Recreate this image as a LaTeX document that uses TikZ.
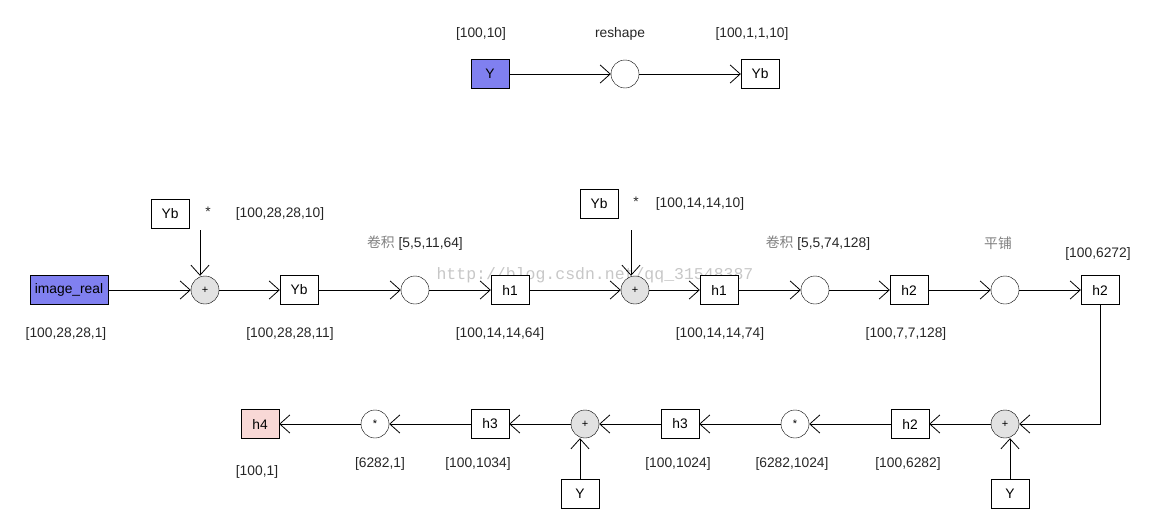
\documentclass[tikz,border=0pt]{standalone}
\usepackage{fontspec}
\setmainfont{Liberation Sans}
\newfontfamily\cjkfont{Noto Sans CJK SC}
\newfontfamily\markfont{Liberation Mono}
\usetikzlibrary{arrows.meta,positioning}
\definecolor{inblue}{RGB}{128,128,240}
\definecolor{outpink}{RGB}{248,216,214}
\definecolor{plusgray}{RGB}{226,226,226}
\tikzset{
  tensorbox/.style={
    rectangle,
    draw,
    fill=white,
    minimum width=38pt,
    minimum height=29pt,
    inner sep=0pt,
    font=\fontsize{13.8}{16}\selectfont
  },
  opnode/.style={
    circle,
    draw,
    fill=white,
    minimum size=28pt,
    inner sep=0pt,
    font=\fontsize{11}{12}\selectfont
  },
  addnode/.style={opnode, fill=plusgray},
  dimlabel/.style={
    inner sep=0pt,
    text=black!85,
    font=\fontsize{13.8}{16}\selectfont
  },
  cjk/.style={text=black!50},
  flowline/.style={-{Straight Barb[length=10pt,width=18pt]},line width=0.8pt}
}

\begin{document}
\begin{tikzpicture}[x=1pt,y=-1pt]
  \useasboundingbox (0,0) rectangle (1170,530);
  % watermark
  \node[text=black!22, font=\markfont\fontsize{16.5}{18}\selectfont] (mark) at (595,275) {http://blog.csdn.net/qq\_31548387};

  % reshape of the label
  \node[tensorbox, fill=inblue] (ytop) at (490,74) {Y};
  \node[opnode] (resh) at (625,74) {};
  \node[tensorbox] (ybtop) at (760,74) {Yb};
  \node[dimlabel] (dimy) at (481,34) {[100,10]};
  \node[dimlabel] (dimresh) at (620,34) {reshape};
  \node[dimlabel] (dimyb) at (752,34) {[100,1,1,10]};
  \draw[flowline] (ytop) -- (resh);
  \draw[flowline] (resh) -- (ybtop);

  % main row
  \node[tensorbox, fill=inblue, minimum width=78pt] (img) at (69,290) {image\_real};
  \node[addnode] (pl1) at (205,290) {+};
  \node[tensorbox] (yb1) at (299,290) {Yb};
  \node[opnode] (cv1) at (415,290) {};
  \node[tensorbox] (h1a) at (510,290) {h1};
  \node[addnode] (pl2) at (635,290) {+};
  \node[tensorbox] (h1b) at (719,290) {h1};
  \node[opnode] (cv2) at (815,290) {};
  \node[tensorbox] (h2a) at (909,290) {h2};
  \node[opnode] (tl) at (1005,290) {};
  \node[tensorbox] (h2b) at (1100,290) {h2};

  \node[tensorbox] (ybc1) at (170,214) {Yb};
  \node[dimlabel] (star1) at (208,212) {*};
  \node[dimlabel] (dimc1) at (280,214) {[100,28,28,10]};
  \coordinate (s1) at (200,230);
  \node[tensorbox] (ybc2) at (599,204) {Yb};
  \node[dimlabel] (star2) at (636,202) {*};
  \node[dimlabel] (dimc2) at (700,204) {[100,14,14,10]};
  \coordinate (s2) at (631,230);

  \node[dimlabel] (dimimg) at (66,334) {[100,28,28,1]};
  \node[dimlabel] (dimyb1) at (290,334) {[100,28,28,11]};
  \node[dimlabel] (dimh1a) at (500,334) {[100,14,14,64]};
  \node[dimlabel] (dimh1b) at (720,334) {[100,14,14,74]};
  \node[dimlabel] (dimh2a) at (906,334) {[100,7,7,128]};
  \node[dimlabel] (dimcv1) at (415,243) {{\cjkfont\color{black!50}卷积} [5,5,11,64]};
  \node[dimlabel] (dimcv2) at (818,243) {{\cjkfont\color{black!50}卷积} [5,5,74,128]};
  \node[dimlabel, cjk] (dimtl) at (998,243) {\cjkfont 平铺};
  \node[dimlabel] (dimh2b) at (1098,254) {[100,6272]};

  \draw[flowline] (img) -- (pl1);
  \draw[flowline] (s1) -- (s1 |- pl1.north);
  \draw[flowline] (pl1) -- (yb1);
  \draw[flowline] (yb1) -- (cv1);
  \draw[flowline] (cv1) -- (h1a);
  \draw[flowline] (h1a) -- (pl2);
  \draw[flowline] (s2) -- (s2 |- pl2.north);
  \draw[flowline] (pl2) -- (h1b);
  \draw[flowline] (h1b) -- (cv2);
  \draw[flowline] (cv2) -- (h2a);
  \draw[flowline] (h2a) -- (tl);
  \draw[flowline] (tl) -- (h2b);

  % bottom row, right to left
  \node[addnode] (pl3) at (1005,424) {+};
  \node[tensorbox] (h2c) at (910,424) {h2};
  \node[opnode] (mul1) at (795,424) {*};
  \node[tensorbox] (h3a) at (680,424) {h3};
  \node[addnode] (pl4) at (585,424) {+};
  \node[tensorbox] (h3b) at (490,424) {h3};
  \node[opnode] (mul2) at (375,424) {*};
  \node[tensorbox, fill=outpink] (h4) at (260,424) {h4};
  \node[tensorbox] (ybot1) at (1010,494) {Y};
  \node[tensorbox] (ybot2) at (580,494) {Y};

  \node[dimlabel] (dimh2c) at (908,464) {[100,6282]};
  \node[dimlabel] (dimmul1) at (792,464) {[6282,1024]};
  \node[dimlabel] (dimh3a) at (678,464) {[100,1024]};
  \node[dimlabel] (dimh3b) at (478,464) {[100,1034]};
  \node[dimlabel] (dimmul2) at (380,464) {[6282,1]};
  \node[dimlabel] (dimh4) at (257,472) {[100,1]};

  \draw[flowline] (h2b) |- (pl3);
  \draw[flowline] (ybot1) -- (ybot1 |- pl3.south);
  \draw[flowline] (pl3) -- (h2c);
  \draw[flowline] (h2c) -- (mul1);
  \draw[flowline] (mul1) -- (h3a);
  \draw[flowline] (h3a) -- (pl4);
  \draw[flowline] (ybot2) -- (ybot2 |- pl4.south);
  \draw[flowline] (pl4) -- (h3b);
  \draw[flowline] (h3b) -- (mul2);
  \draw[flowline] (mul2) -- (h4);
\end{tikzpicture}
\end{document}
